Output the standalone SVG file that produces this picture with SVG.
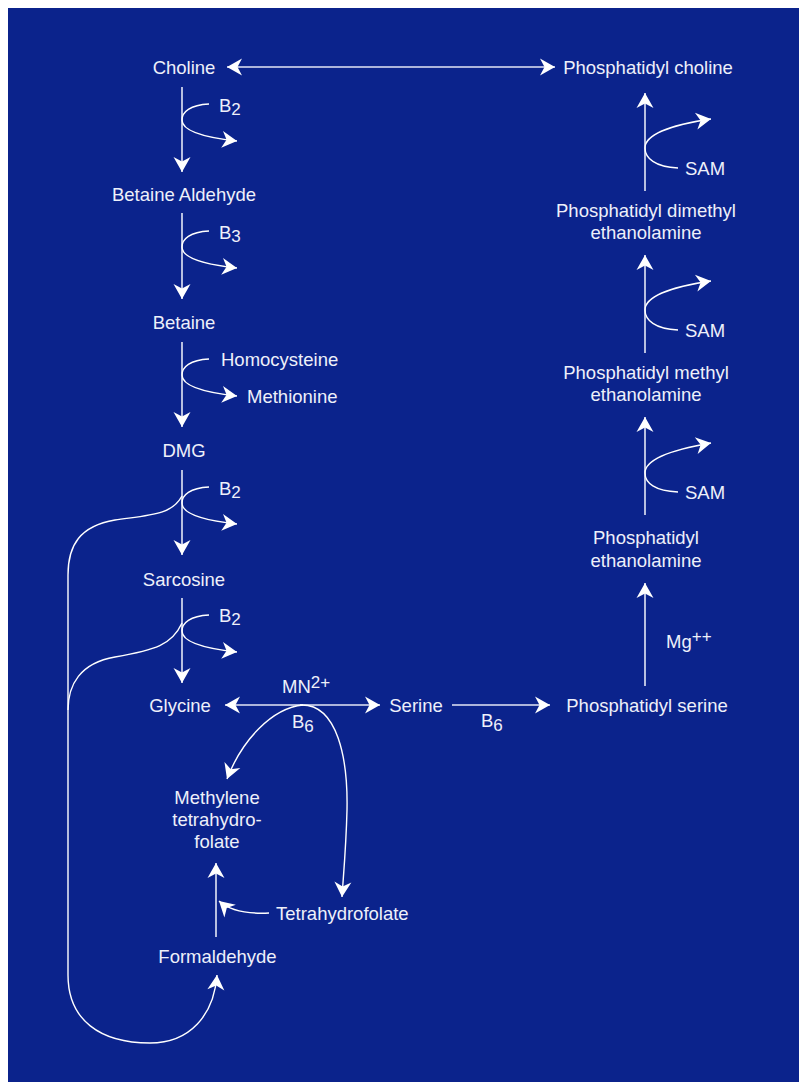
<svg xmlns="http://www.w3.org/2000/svg" width="799" height="1082" viewBox="0 0 799 1082">
<style>
text{font-family:"Liberation Sans",Arial,sans-serif;font-size:18.5px;fill:#EEF0FA}
.c{text-anchor:middle}
.s{font-size:17px}
.ln{fill:none;stroke:#E4E7F6;stroke-width:1.6}
.cv{fill:none;stroke:#FFFFFF;stroke-width:1.4}
.a{marker-end:url(#ah)}
.aa{marker-start:url(#ah);marker-end:url(#ah)}
</style>
<defs>
<marker id="ah" markerUnits="userSpaceOnUse" markerWidth="18" markerHeight="18" viewBox="-16 -9 18 18" refX="0" refY="0" orient="auto-start-reverse" overflow="visible">
<path d="M0,0 L-15,-8.5 L-10.5,0 L-15,8.5 Z" fill="#FFFFFF"/>
</marker>
</defs>
<rect x="0" y="0" width="799" height="1082" fill="#FFFFFF"/>
<rect x="8" y="8" width="791" height="1074" fill="#0B238C"/>

<g id="connectors">
<path class="ln aa" d="M227,67 L555,67"/>
<path class="ln a" d="M182,87 L182,172"/>
<path class="ln a" d="M182,213 L182,299"/>
<path class="ln a" d="M182,342 L182,427"/>
<path class="ln a" d="M182,470 L182,555"/>
<path class="ln a" d="M182,598 L182,683"/>
<path class="cv a" d="M209,104 C190,105 182,112 182,120 C182,130 200,137 237,141"/>
<path class="cv a" d="M209,231 C190,232 182,239 182,247 C182,257 200,264 237,268"/>
<path class="cv a" d="M209,359 C190,360 182,367 182,375 C182,385 200,392 237,396"/>
<path class="cv a" d="M209,487 C190,488 182,495 182,503 C182,513 200,520 237,524"/>
<path class="cv a" d="M209,615 C190,616 182,623 182,631 C182,641 200,648 237,652"/>
<path class="cv a" d="M182,496 C172,515 150,515 115,520 C80,526 68,545 68,575 L68,975 C68,1020 100,1043 150,1043 C190,1043 214,1015 217,975"/>
<path class="cv" d="M182,623 C172,645 155,650 115,657 C80,663 68,685 68,710"/>
<path class="ln aa" d="M225,705 L380,705"/>
<path class="ln a" d="M452,705 L550,705"/>
<path class="cv a" d="M303,705 C272,708 242,740 227,779"/>
<path class="cv a" d="M300,705 C338,703 348,760 347,810 C346,850 343,880 342,897"/>
<path class="ln a" d="M216,937 L216,863"/>
<path class="cv a" d="M269,913 C248,914 230,911 219,901"/>
<path class="ln a" d="M645,686 L645,583"/>
<path class="ln a" d="M645,515 L645,417"/>
<path class="ln a" d="M645,353 L645,255"/>
<path class="ln a" d="M645,191 L645,93"/>
<path class="cv a" d="M678,168 C655,167 645,158 645,148 C645,135 670,125 711,119"/>
<path class="cv a" d="M678,330 C655,329 645,320 645,310 C645,297 670,287 711,281"/>
<path class="cv a" d="M678,492 C655,491 645,483 645,473 C645,460 670,450 711,443"/>
</g>

<g id="choline"><text class="c" x="184" y="74">Choline</text></g>
<g id="betaine-aldehyde"><text class="c" x="184" y="201">Betaine Aldehyde</text></g>
<g id="betaine"><text class="c" x="184" y="329">Betaine</text></g>
<g id="dmg"><text class="c" x="184" y="457">DMG</text></g>
<g id="sarcosine"><text class="c" x="184" y="586">Sarcosine</text></g>
<g id="glycine"><text class="c" x="180" y="712">Glycine</text></g>
<g id="serine"><text class="c" x="416" y="712">Serine</text></g>
<g id="methylene-thf">
<text class="c" x="217" y="804">Methylene</text>
<text class="c" x="217" y="826">tetrahydro-</text>
<text class="c" x="217" y="848">folate</text>
</g>
<g id="tetrahydrofolate"><text x="276" y="920">Tetrahydrofolate</text></g>
<g id="formaldehyde"><text class="c" x="217.5" y="963">Formaldehyde</text></g>
<g id="phosphatidyl-choline"><text class="c" x="648" y="74">Phosphatidyl choline</text></g>
<g id="phosphatidyl-dimethyl-ethanolamine">
<text class="c" x="646" y="217">Phosphatidyl dimethyl</text>
<text class="c" x="646" y="239">ethanolamine</text>
</g>
<g id="phosphatidyl-methyl-ethanolamine">
<text class="c" x="646" y="379">Phosphatidyl methyl</text>
<text class="c" x="646" y="401">ethanolamine</text>
</g>
<g id="phosphatidyl-ethanolamine">
<text class="c" x="646" y="544">Phosphatidyl</text>
<text class="c" x="646" y="567">ethanolamine</text>
</g>
<g id="phosphatidyl-serine"><text class="c" x="647" y="712">Phosphatidyl serine</text></g>

<g id="labels">
<text x="219" y="112">B<tspan class="s" dy="3">2</tspan></text>
<text x="219" y="239">B<tspan class="s" dy="3">3</tspan></text>
<text x="221" y="366">Homocysteine</text>
<text x="247" y="403">Methionine</text>
<text x="219" y="495">B<tspan class="s" dy="3">2</tspan></text>
<text x="219" y="622">B<tspan class="s" dy="3">2</tspan></text>
<text x="282" y="693">MN<tspan class="s" dy="-5">2+</tspan></text>
<text x="292" y="728">B<tspan class="s" dy="4">6</tspan></text>
<text x="481" y="727">B<tspan class="s" dy="4">6</tspan></text>
<text x="666" y="648">Mg<tspan class="s" dy="-6.5">++</tspan></text>
<text x="685" y="175">SAM</text>
<text x="685" y="337">SAM</text>
<text x="685" y="499">SAM</text>
</g>
</svg>
